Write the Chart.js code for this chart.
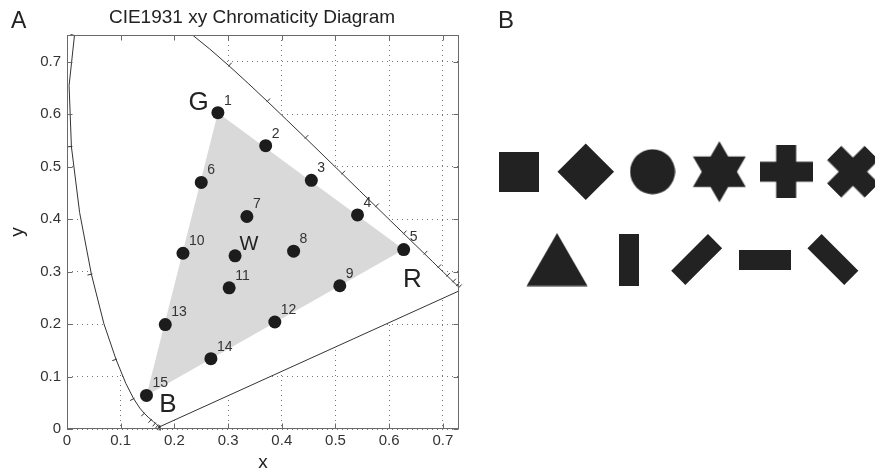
<!DOCTYPE html>
<html>
<head>
<meta charset="utf-8">
<script src="https://cdn.jsdelivr.net/npm/chart.js@4.4.0/dist/chart.umd.min.js"></script>
<style>
html, body { margin: 0; padding: 0; background: #fff; }
#wrap { position: relative; width: 875px; height: 474px; overflow: hidden; }
#chartA { position: absolute; left: 0; top: 0; }
#chartB { position: absolute; left: 470px; top: 0; }
</style>
</head>
<body>
<div id="wrap">
  <canvas id="chartA" width="470" height="474"></canvas>
  <canvas id="chartB" width="405" height="474"></canvas>
</div>
<script>
// CIE 1931 2-degree spectral locus, 380-700 nm every 5 nm
const locusNm = [380,385,390,395,400,405,410,415,420,425,430,435,440,445,450,455,460,465,470,475,480,485,490,495,500,505,510,515,520,525,530,535,540,545,550,555,560,565,570,575,580,585,590,595,600,605,610,615,620,625,630,635,640,645,650,655,660,665,670,675,680,685,690,695,700];
const locusX = [0.1741,0.1740,0.1738,0.1736,0.1733,0.1730,0.1726,0.1721,0.1714,0.1703,0.1689,0.1669,0.1644,0.1611,0.1566,0.1510,0.1440,0.1355,0.1241,0.1096,0.0913,0.0687,0.0454,0.0235,0.0082,0.0039,0.0139,0.0389,0.0743,0.1142,0.1547,0.1929,0.2296,0.2658,0.3016,0.3373,0.3731,0.4087,0.4441,0.4788,0.5125,0.5448,0.5752,0.6029,0.6270,0.6482,0.6658,0.6801,0.6915,0.7006,0.7079,0.7140,0.7190,0.7230,0.7260,0.7283,0.7300,0.7311,0.7320,0.7327,0.7334,0.7340,0.7344,0.7346,0.7347];
const locusY = [0.0050,0.0050,0.0049,0.0049,0.0048,0.0048,0.0048,0.0048,0.0051,0.0058,0.0069,0.0086,0.0109,0.0138,0.0177,0.0227,0.0297,0.0399,0.0578,0.0868,0.1327,0.2007,0.2950,0.4127,0.5384,0.6548,0.7502,0.8120,0.8338,0.8262,0.8059,0.7816,0.7543,0.7243,0.6923,0.6589,0.6245,0.5896,0.5547,0.5202,0.4866,0.4544,0.4242,0.3965,0.3725,0.3514,0.3340,0.3197,0.3083,0.2993,0.2920,0.2859,0.2809,0.2770,0.2740,0.2717,0.2700,0.2689,0.2680,0.2673,0.2666,0.2660,0.2656,0.2654,0.2653];
const locusTickNm = [380,390,400,410,420,430,440,450,460,470,480,490,500,510,520,530,540,550,560,570,580,590,600,610,620,630,640,650,660,670,680,690,700];

// measured colour points (W = white point)
const dotLabels = ['1','2','3','4','5','6','7','8','9','10','11','12','13','14','15',''];
const dotX = [0.281,0.370,0.455,0.541,0.627,0.250,0.335,0.422,0.508,0.216,0.302,0.387,0.183,0.268,0.148,0.313];
const dotY = [0.603,0.540,0.474,0.408,0.342,0.470,0.405,0.339,0.273,0.335,0.269,0.204,0.199,0.134,0.064,0.330];

// display gamut triangle (G, R, B)
const gamutX = [0.281,0.627,0.148];
const gamutY = [0.603,0.342,0.064];

const letterText = ['G','R','B','W'];
const letterX = [0.245,0.643,0.188,0.339];
const letterY = [0.622,0.284,0.046,0.352];
const letterSize = [26,26,26,20];

const xTicks = [0,0.1,0.2,0.3,0.4,0.5,0.6,0.7];
const yTicks = [0,0.1,0.2,0.3,0.4,0.5,0.6,0.7];

// panel B shapes
const shapeNames = ['square','diamond','circle','hexagram','plus','cross','triangle','vbar','slash','hbar','backslash'];
const shapeCol = [0,1,2,3,4,5,0.57,1.65,2.66,3.68,4.70];
const shapeRow = [1,1,1,1,1,1,0,0,0,0,0];

Chart.defaults.font.family = "'Liberation Sans', Arial, Helvetica, sans-serif";

const toXY = (xs, ys) => xs.map((v, i) => ({x: v, y: ys[i]}));
const locusPts = toXY(locusX, locusY);
locusPts.push({x: locusX[0], y: locusY[0]}); // close with the purple line
const gamutPts = toXY(gamutX, gamutY);
gamutPts.push({x: gamutX[0], y: gamutY[0]});

const decor = {
  id: 'decor',
  afterDatasetsDraw(chart) {
    const {ctx, chartArea: a, scales: {x, y}} = chart;
    ctx.save();
    // wavelength ticks on the locus
    ctx.strokeStyle = '#333';
    ctx.lineWidth = 1;
    const n = locusNm.length;
    locusTickNm.forEach(nm => {
      const i = locusNm.indexOf(nm);
      const p = [x.getPixelForValue(locusX[i]), y.getPixelForValue(locusY[i])];
      const i0 = Math.max(i - 2, 0), i1 = Math.min(i + 2, n - 1);
      const dx = x.getPixelForValue(locusX[i1]) - x.getPixelForValue(locusX[i0]);
      const dy = y.getPixelForValue(locusY[i1]) - y.getPixelForValue(locusY[i0]);
      const len = Math.hypot(dx, dy);
      if (len < 0.5 || p[1] < a.top || p[0] > a.right) return;
      const nx = -dy / len, ny = dx / len;
      ctx.beginPath();
      ctx.moveTo(p[0] - nx * 4, p[1] - ny * 4);
      ctx.lineTo(p[0] + nx * 1, p[1] + ny * 1);
      ctx.stroke();
    });
    // frame and inward ticks
    ctx.strokeStyle = '#6a6a6a';
    const L = Math.round(a.left) + 0.5, R = Math.round(a.right) - 0.5;
    const T = Math.round(a.top) + 0.5, B = Math.round(a.bottom) - 0.5;
    ctx.strokeRect(L, T, R - L, B - T);
    ctx.beginPath();
    xTicks.forEach(v => {
      const px = Math.round(x.getPixelForValue(v)) + 0.5;
      ctx.moveTo(px, B); ctx.lineTo(px, B - 5);
      ctx.moveTo(px, T); ctx.lineTo(px, T + 5);
    });
    yTicks.forEach(v => {
      const py = Math.round(y.getPixelForValue(v)) + 0.5;
      ctx.moveTo(L, py); ctx.lineTo(L + 5, py);
      ctx.moveTo(R, py); ctx.lineTo(R - 5, py);
    });
    ctx.stroke();
    // point numbers
    ctx.fillStyle = '#333';
    ctx.font = "14px 'Liberation Sans', Arial, sans-serif";
    ctx.textAlign = 'left';
    ctx.textBaseline = 'middle';
    dotLabels.forEach((t, i) => {
      if (!t) return;
      ctx.fillText(t, x.getPixelForValue(dotX[i]) + 6, y.getPixelForValue(dotY[i]) - 12);
    });
    // primaries and white point letters
    ctx.fillStyle = '#222';
    ctx.textAlign = 'center';
    letterText.forEach((t, i) => {
      ctx.font = letterSize[i] + "px 'Liberation Sans', Arial, sans-serif";
      ctx.fillText(t, x.getPixelForValue(letterX[i]), y.getPixelForValue(letterY[i]));
    });
    ctx.restore();
  },
  afterDraw(chart) {
    const ctx = chart.ctx;
    ctx.save();
    ctx.fillStyle = '#222';
    ctx.textBaseline = 'alphabetic';
    ctx.textAlign = 'center';
    ctx.font = "19px 'Liberation Sans', Arial, sans-serif";
    ctx.fillText('CIE1931 xy Chromaticity Diagram', 252, 23);
    ctx.textAlign = 'left';
    ctx.font = "23px 'Liberation Sans', Arial, sans-serif";
    ctx.fillText('A', 11, 28);
    ctx.restore();
  }
};

const tickFont = {size: 15};
const fmt = v => String(+v.toFixed(1));

new Chart(document.getElementById('chartA'), {
  type: 'line',
  data: {
    datasets: [
      {data: toXY(dotX, dotY), showLine: false, pointRadius: 6.5, pointBackgroundColor: '#1c1c1c', pointBorderWidth: 0, order: 0},
      {data: gamutPts, fill: 'shape', backgroundColor: '#d9d9d9', borderWidth: 0, pointRadius: 0, tension: 0, order: 1},
      {data: locusPts, fill: 'shape', backgroundColor: '#ffffff', borderColor: '#333', borderWidth: 1, pointRadius: 0, tension: 0, order: 2}
    ]
  },
  options: {
    responsive: false,
    animation: false,
    events: [],
    layout: {padding: {top: 35, right: 11, left: 0, bottom: 0}, autoPadding: false},
    plugins: {legend: {display: false}, tooltip: {enabled: false}},
    scales: {
      x: {
        type: 'linear', min: 0, max: 0.73,
        afterBuildTicks: s => { s.ticks = xTicks.map(v => ({value: v})); },
        afterFit: s => { s.height = 45; },
        ticks: {color: '#333', font: tickFont, padding: 3, callback: fmt},
        grid: {color: '#777', drawTicks: false},
        border: {display: false, dash: [1, 4]},
        title: {display: true, text: 'x', color: '#222', font: {size: 19}, padding: 0}
      },
      y: {
        type: 'linear', min: 0, max: 0.751,
        afterBuildTicks: s => { s.ticks = yTicks.map(v => ({value: v})); },
        afterFit: s => { s.width = 67; },
        ticks: {color: '#333', font: tickFont, padding: 6, callback: fmt},
        grid: {color: '#777', drawTicks: false},
        border: {display: false, dash: [1, 4]},
        title: {display: true, text: 'y', color: '#222', font: {size: 19}, padding: {top: 6, bottom: 0}}
      }
    }
  },
  plugins: [decor]
});

// ---- panel B: marker shapes ----
function shapeImage(w, h, draw) {
  const c = document.createElement('canvas');
  c.width = w; c.height = h;
  const g = c.getContext('2d');
  g.fillStyle = '#222';
  g.beginPath();
  draw(g, w, h);
  g.fill();
  return c;
}
const squareImg = shapeImage(40, 40, g => g.rect(0, 0, 40, 40));
const circleImg = shapeImage(46, 46, g => g.arc(23, 23, 22.5, 0, Math.PI * 2));
const starImg = shapeImage(54, 62, g => {
  for (let k = 0; k < 12; k++) {
    const r = k % 2 ? 17.6 : 30.5;
    const t = -Math.PI / 2 + k * Math.PI / 6;
    g.lineTo(27 + r * Math.cos(t), 31 + r * Math.sin(t));
  }
  g.closePath();
});
const plusImg = shapeImage(53, 53, g => {
  const p = [[16.5,0],[36.5,0],[36.5,16.5],[53,16.5],[53,36.5],[36.5,36.5],[36.5,53],[16.5,53],[16.5,36.5],[0,36.5],[0,16.5],[16.5,16.5]];
  p.forEach(q => g.lineTo(q[0], q[1]));
  g.closePath();
});
const triImg = shapeImage(62, 54, g => {
  g.moveTo(31, 0.5); g.lineTo(61.5, 53.5); g.lineTo(0.5, 53.5); g.closePath();
});
const barImg = shapeImage(52, 20, g => g.rect(0, 0, 52, 20));

const shapeStyle = {
  square: [squareImg, 0], diamond: [squareImg, 45], circle: [circleImg, 0],
  hexagram: [starImg, 0], plus: [plusImg, 0], cross: [plusImg, 45],
  triangle: [triImg, 0], vbar: [barImg, 90], slash: [barImg, -45],
  hbar: [barImg, 0], backslash: [barImg, 45]
};

const panelLabel = {
  id: 'panelLabel',
  afterDraw(chart) {
    const ctx = chart.ctx;
    ctx.save();
    ctx.fillStyle = '#222';
    ctx.font = "24px 'Liberation Sans', Arial, sans-serif";
    ctx.textBaseline = 'alphabetic';
    ctx.fillText('B', 28, 28);
    ctx.restore();
  }
};

new Chart(document.getElementById('chartB'), {
  type: 'scatter',
  data: {
    datasets: [{
      data: toXY(shapeCol, shapeRow),
      pointStyle: shapeNames.map(s => shapeStyle[s][0]),
      rotation: shapeNames.map(s => shapeStyle[s][1]),
      pointRadius: 20,
      clip: false
    }]
  },
  options: {
    responsive: false,
    animation: false,
    events: [],
    layout: {padding: 0, autoPadding: false},
    plugins: {legend: {display: false}, tooltip: {enabled: false}},
    scales: {
      x: {type: 'linear', min: -0.733, max: 5.33, display: false},
      y: {type: 'linear', min: -2.443, max: 2.956, display: false}
    }
  },
  plugins: [panelLabel]
});
</script>
</body>
</html>
